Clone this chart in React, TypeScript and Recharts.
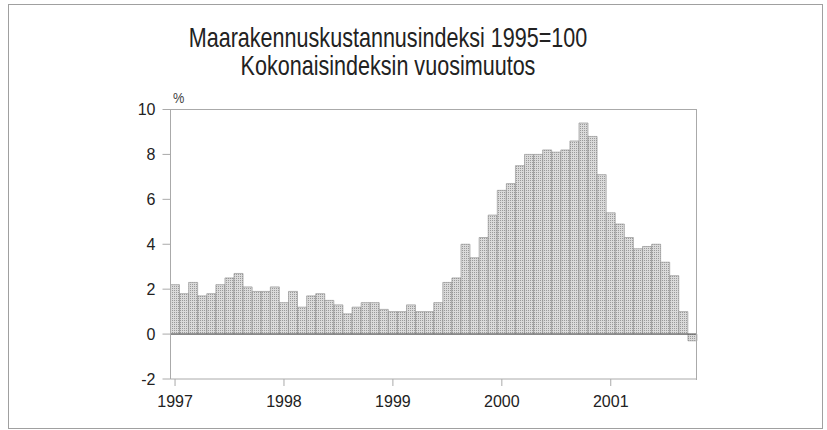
import React from 'react';
import { BarChart, Bar, XAxis, YAxis, ReferenceLine } from 'recharts';

// Vuosimuutos kuukausittain, %
const years = ['1997', '1998', '1999', '2000', '2001'];
const months = ['01', '02', '03', '04', '05', '06', '07', '08', '09', '10', '11', '12'];

const change1997 = [2.2, 1.8, 2.3, 1.7, 1.8, 2.2, 2.5, 2.7, 2.1, 1.9, 1.9, 2.1];
const change1998 = [1.4, 1.9, 1.2, 1.7, 1.8, 1.5, 1.3, 0.9, 1.2, 1.4, 1.4, 1.1];
const change1999 = [1.0, 1.0, 1.3, 1.0, 1.0, 1.4, 2.3, 2.5, 4.0, 3.4, 4.3, 5.3];
const change2000 = [6.4, 6.7, 7.5, 8.0, 8.0, 8.2, 8.1, 8.2, 8.6, 9.4, 8.8, 7.1];
const change2001 = [5.4, 4.9, 4.3, 3.8, 3.9, 4.0, 3.2, 2.6, 1.0, -0.3];

const yTicks = [-2, 0, 2, 4, 6, 8, 10];

const allValues = [change1997, change1998, change1999, change2000, change2001];

const data = allValues.flatMap((vals, yi) =>
  vals.map((v, mi) => ({ month: `${years[yi]}-${months[mi]}`, muutos: v }))
);

const font = '"Liberation Sans", Arial, sans-serif';

export default function App() {
  return (
    <div style={{ position: 'absolute', left: 0, top: 0, width: 827, height: 430, background: '#fff', fontFamily: font }}>
      <div style={{ position: 'absolute', left: 8, top: 4, width: 813, height: 423, border: '1px solid #a0a0a0' }} />
      <div
        style={{
          position: 'absolute',
          left: 0,
          width: 776,
          top: 24,
          textAlign: 'center',
          fontSize: 28,
          lineHeight: '28px',
          color: '#222',
          transform: 'scaleX(0.77)',
          transformOrigin: '388px 0',
        }}
      >
        Maarakennuskustannusindeksi 1995=100
        <br />
        Kokonaisindeksin vuosimuutos
      </div>
      <div style={{ position: 'absolute', left: 172, top: 89, fontSize: 15, color: '#444', transform: 'scaleX(0.85)' }}>%</div>
      <div style={{ position: 'absolute', left: 0, top: 0 }}>
        <BarChart
          width={827}
          height={430}
          data={data}
          barCategoryGap={0}
          margin={{ top: 109.5, right: 130, bottom: 21, left: 110.5 }}
        >
          <defs>
            <pattern id="stipple" width="2" height="2" patternUnits="userSpaceOnUse">
              <rect width="2" height="2" fill="#dadada" />
              <rect width="1" height="1" fill="#9a9a9a" />
            </pattern>
          </defs>
          <XAxis
            dataKey="month"
            interval={11}
            tickFormatter={(m: string) => m.slice(0, 4)}
            stroke="#aaa"
            tickSize={7}
            tickMargin={10}
            tick={{ fill: '#222', fontSize: 16, fontFamily: font }}
            height={30}
          />
          <YAxis
            domain={[-2, 10]}
            ticks={yTicks}
            interval={0}
            stroke="#aaa"
            tickSize={8}
            tickMargin={7}
            width={60}
            tick={{ fill: '#222', fontSize: 16, fontFamily: font }}
          />
          <Bar dataKey="muutos" fill="url(#stipple)" stroke="#8a8a8a" strokeWidth={0.6} isAnimationActive={false} />
          <ReferenceLine y={0} stroke="#555" strokeWidth={1} />
        </BarChart>
      </div>
      {/* plot frame: top and right edges */}
      <div
        style={{
          position: 'absolute',
          left: 170,
          top: 109,
          width: 526,
          height: 270,
          borderTop: '1px solid #aaa',
          borderRight: '1px solid #aaa',
          pointerEvents: 'none',
        }}
      />
    </div>
  );
}
